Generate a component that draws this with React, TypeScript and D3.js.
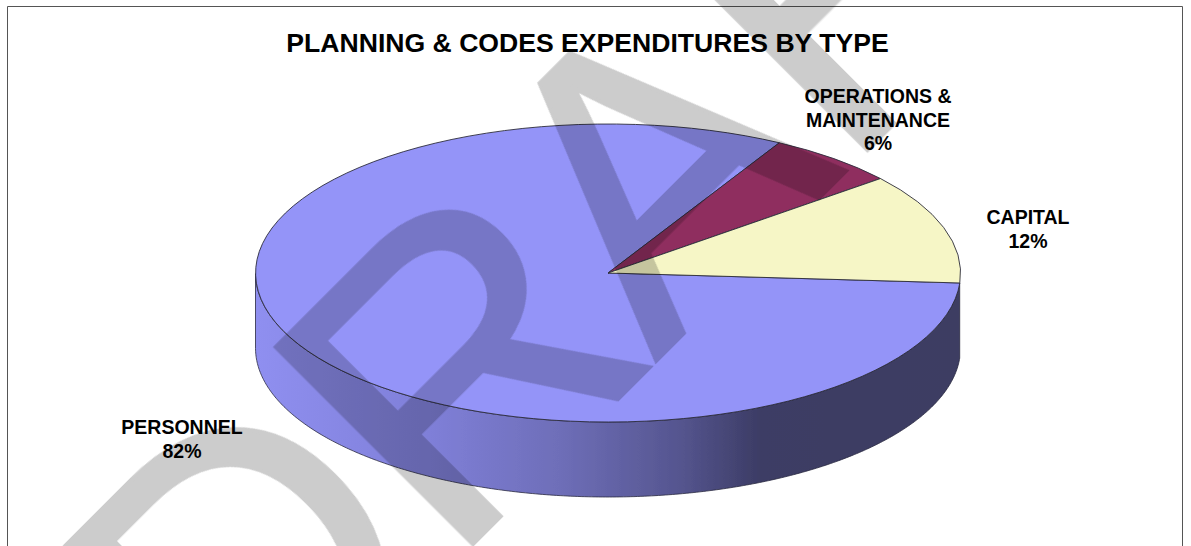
import React from "react";
import * as d3 from "d3";

const categories = ["PERSONNEL", "OPERATIONS & MAINTENANCE", "CAPITAL"];
const shares = [82, 6, 12];
const sliceColors = ["#9494f8", "#8f2e5e", "#f6f6c6"];
const labelLines = [["PERSONNEL", "82%"], ["OPERATIONS &", "MAINTENANCE", "6%"], ["CAPITAL", "12%"]];
const labelCentres = [[182, 434], [878, 103], [1028, 224]];
const chartTitle = "PLANNING & CODES EXPENDITURES BY TYPE";
const watermarkLetters = ["D", "R", "A", "F", "T"];
const watermarkAdvance = [4, 292, 585, 851, 1103];
const watermarkScaleX = [1, 1.04, 1, 1, 1];
const watermarkScaleY = [1.03, 1, 1, 1.12, 1];
const sideStops = [
  [256, "#8f8ff0"], [430, "#7f7fd8"], [560, "#6e6eb8"], [680, "#55558f"], [760, "#3c3c65"], [961, "#3c3c62"],
] as const;

const W = 1191, H = 546;
const cx = 608, cy = 273, rx = 352.5, ry = 149, depth = 75;
const rad = (d: number) => (d * Math.PI) / 180;
const startDeg = 93.85;

export default function App() {
  const pie = d3.pie<number>().sort(null).startAngle(rad(startDeg)).endAngle(rad(startDeg + 360));
  const slices = pie(shares);
  const arc = d3.arc<d3.PieArcDatum<number>>().innerRadius(0).outerRadius(1);
  const xs = d3.scaleLinear().domain([-1, 1]).range([cx - rx, cx + rx]);
  const ys = d3.scaleLinear().domain([-1, 1]).range([cy - ry, cy + ry]);
  const px = (a: number) => xs(Math.sin(a));
  const py = (a: number) => ys(-Math.cos(a));
  const angles = d3.range(rad(startDeg), rad(270) + 0.001, 0.01);
  const line = d3.line();
  const sidePath =
    line([
      ...angles.map((a) => [px(a), py(a)] as [number, number]),
      ...angles.slice().reverse().map((a) => [px(a), py(a) + depth] as [number, number]),
    ]) + "Z";
  const gradX = d3.scaleLinear().domain([256, 961]).range([0, 100]);
  const fs = 405;
  const wmOrigin: [number, number] = [242, 775];
  return (
    <svg width={W} height={H} style={{ position: "absolute", left: 0, top: 0, display: "block" }} fontFamily="'Liberation Sans', Arial, sans-serif">
      <defs>
        <linearGradient id="side" x1="256" x2="961" y1="0" y2="0" gradientUnits="userSpaceOnUse">
          {sideStops.map(([x, c]) => <stop key={x} offset={`${gradX(x)}%`} stopColor={c} />)}
        </linearGradient>
        <filter id="soft" x="-5%" y="-5%" width="110%" height="110%"><feGaussianBlur stdDeviation="0.35" /></filter>
      </defs>
      <rect width={W} height={H} fill="#fff" />
      <path d={`M7.5,${H}V6.5H1182.5V${H}`} fill="none" stroke="#555" strokeWidth={1} />
      <g filter="url(#soft)">
        <path d={sidePath} fill="url(#side)" stroke="#2a2a40" strokeWidth={0.8} />
        <g transform={`translate(${cx},${cy}) scale(${rx},${ry})`}>
          {slices.map((s, i) => (
            <path key={categories[i]} d={arc(s) as string} fill={sliceColors[i]} stroke="#2c2c3c" strokeWidth={0.9} vectorEffect="non-scaling-stroke" />
          ))}
        </g>
      </g>
      <text x={587.5} y={52} textAnchor="middle" fontSize={26.6} fontWeight="bold" fill="#000">{chartTitle}</text>
      {labelLines.map((lines, i) => (
        <text key={categories[i]} textAnchor="middle" fontSize={19.5} fontWeight="bold" fill="#000">
          {lines.map((t, j) => (
            <tspan key={j} x={labelCentres[i][0]} y={labelCentres[i][1] + j * 23.5}>{t}</tspan>
          ))}
        </text>
      ))}
      <g style={{ mixBlendMode: "multiply" }} transform={`translate(${wmOrigin[0]},${wmOrigin[1]}) rotate(-45)`}>
        {watermarkLetters.map((l, i) => (
          <text
            key={l}
            transform={`translate(${watermarkAdvance[i]},0) scale(${watermarkScaleX[i]},${watermarkScaleY[i]})`}
            fontSize={fs}
            fill="#cccccc"
            stroke="#cccccc"
            strokeWidth={4}
          >
            {l}
          </text>
        ))}
      </g>
    </svg>
  );
}
